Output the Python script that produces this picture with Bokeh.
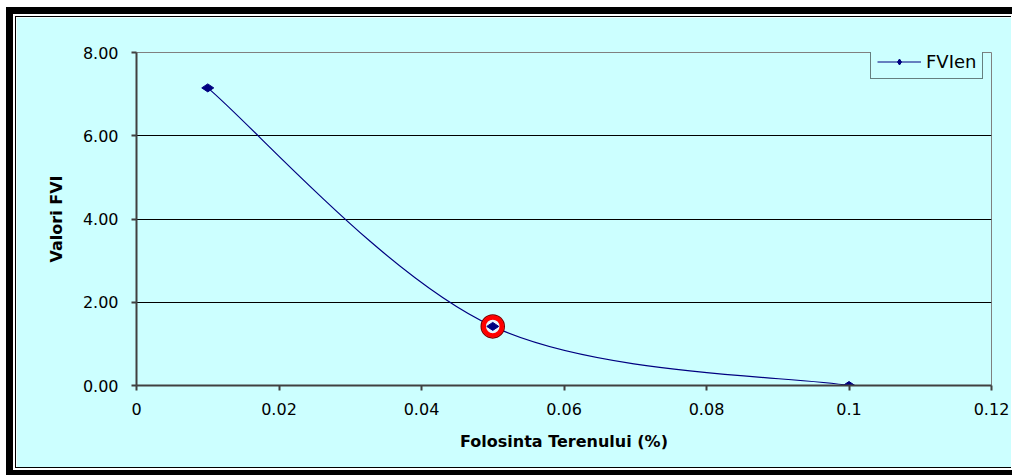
import numpy as np
from bokeh.plotting import figure
from bokeh.models import FixedTicker, Legend, LegendItem
from bokeh.embed import file_html
from bokeh.resources import INLINE

# Land-use share (fraction) and the resulting FVI values
folosinta = [0.01, 0.05, 0.1]
fvi_len = [7.15, 1.42, 0.0]
highlight_index = 1

x_ticks = [0.0, 0.02, 0.04, 0.06, 0.08, 0.1, 0.12]
x_tick_labels = ["0", "0.02", "0.04", "0.06", "0.08", "0.1", "0.12"]
y_ticks = [0.0, 2.0, 4.0, 6.0, 8.0]
y_tick_labels = ["0.00", "2.00", "4.00", "6.00", "8.00"]
grid_values = [2.0, 4.0, 6.0]

BG = "#ccffff"
NAVY = "#000080"
FONT = "DejaVu Sans"

p = figure(
    width=996, height=452,
    x_range=(0, 0.12), y_range=(0, 8),
    output_backend="svg", toolbar_location=None,
    min_border_left=120, min_border_right=21,
    min_border_top=35, min_border_bottom=84,
    background_fill_color=BG, border_fill_color=BG,
)
# double frame around the chart area
p.styles = {
    "margin-left": "15px",
    "margin-top": "16px",
    "border-left": "1px solid black",
    "border-top": "1px solid black",
    "border-bottom": "1px solid black",
    "outline": "7px solid black",
    "outline-offset": "2px",
}

p.outline_line_color = "#808080"
p.outline_line_width = 1

# axes
for ax in (p.xaxis[0], p.yaxis[0]):
    ax.axis_line_color = "#404040"
    ax.axis_line_width = 2
    ax.major_tick_line_color = "#404040"
    ax.major_tick_line_width = 2
    ax.major_tick_in = 0
    ax.major_tick_out = 5
    ax.minor_tick_line_color = None
    ax.major_label_text_font = FONT
    ax.major_label_text_font_size = "16px"
    ax.major_label_text_color = "#000000"
    ax.axis_label_text_font = FONT
    ax.axis_label_text_font_size = "16px"
    ax.axis_label_text_font_style = "bold"
    ax.axis_label_text_color = "#000000"

p.xaxis.ticker = FixedTicker(ticks=x_ticks)
p.xaxis.major_label_overrides = dict(zip(x_ticks, x_tick_labels))
p.xaxis.major_label_standoff = 12
p.xaxis.axis_label = "Folosinta Terenului (%)"
p.xaxis.axis_label_standoff = 14

p.yaxis.ticker = FixedTicker(ticks=y_ticks)
p.yaxis.major_label_overrides = dict(zip(y_ticks, y_tick_labels))
p.yaxis.major_label_standoff = 13
p.yaxis.axis_label = "Valori FVI"
p.yaxis.axis_label_standoff = 14

p.xgrid.grid_line_color = None
p.ygrid.ticker = FixedTicker(ticks=grid_values)
p.ygrid.grid_line_color = "#000000"
p.ygrid.grid_line_width = 1

# smoothed series: cubic Bezier segments with Catmull-Rom style control points
xs = np.array(folosinta, dtype=float)
ys = np.array(fvi_len, dtype=float)
n = len(xs)
prev_i = np.maximum(np.arange(n) - 1, 0)
next_i = np.minimum(np.arange(n) + 1, n - 1)
tx = (xs[next_i] - xs[prev_i]) / 6.0
ty = (ys[next_i] - ys[prev_i]) / 6.0
curve = p.bezier(
    x0=xs[:-1], y0=ys[:-1], x1=xs[1:], y1=ys[1:],
    cx0=xs[:-1] + tx[:-1], cy0=ys[:-1] + ty[:-1],
    cx1=xs[1:] - tx[1:], cy1=ys[1:] - ty[1:],
    line_color=NAVY, line_width=1.2,
)

# highlighted point ring
hx = [folosinta[highlight_index]]
hy = [fvi_len[highlight_index]]
p.scatter(hx, hy, marker="circle", size=23, fill_color=None,
          line_color="#7a0000", line_width=1.5)
p.scatter(hx, hy, marker="circle", size=18, fill_color="#e8f4ff",
          line_color="#ff0000", line_width=4.5)

markers = p.scatter(folosinta, fvi_len, marker="diamond", angle=np.pi / 2,
                    size=12, fill_color=NAVY, line_color=NAVY)

legend = Legend(
    items=[LegendItem(label="FVIen", renderers=[curve, markers])],
    location=(734, 306),
    orientation="vertical",
    border_line_color="#000000", border_line_width=1,
    background_fill_color=BG, background_fill_alpha=1.0,
    label_text_font=FONT, label_text_font_size="18px",
    label_text_color="#000000",
    glyph_width=44, glyph_height=15, label_height=15,
    label_standoff=5, padding=6, spacing=0, margin=0,
)
p.add_layout(legend)

open("out.html", "w").write(file_html(p, INLINE))
